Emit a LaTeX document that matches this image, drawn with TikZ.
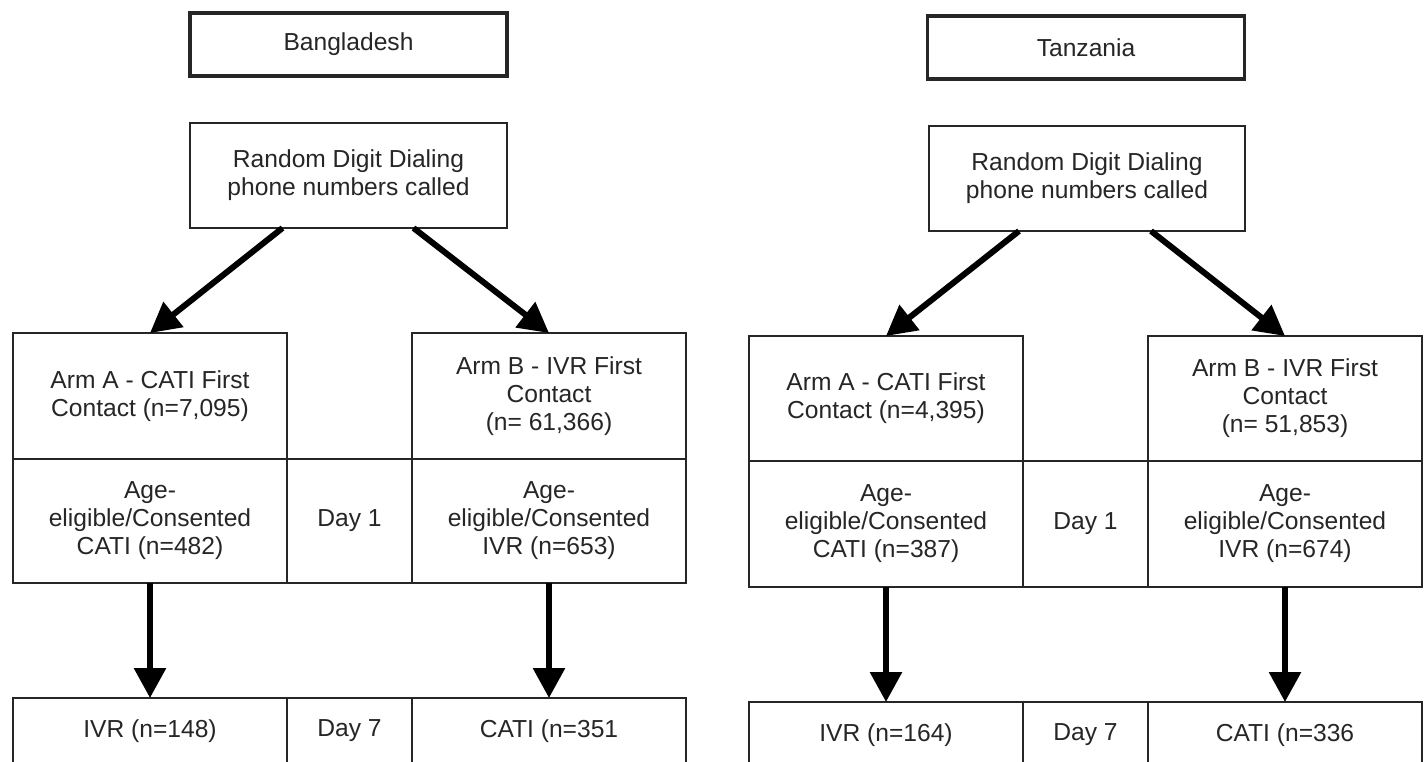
\documentclass[tikz,border=0pt]{standalone}
\usepackage{fontspec}
\setmainfont{Liberation Sans}
\usetikzlibrary{arrows.meta}
\begin{document}
\begin{tikzpicture}[x=0.5pt,y=-0.5pt,
  cell/.style={draw=black!85, line width=1pt, rectangle, inner sep=0pt, outer sep=0pt,
    align=center, font=\fontsize{12.3}{14}\selectfont, text=black!85},
  titlebox/.style={cell, line width=1.6pt, minimum width=158.5pt, minimum height=31.5pt},
  wide/.style={cell, minimum width=137pt},
  narrow/.style={cell, minimum width=62.5pt},
  flow/.style={line width=3pt, draw=black, -{Triangle[length=15pt,width=15.5pt]}},
]
\useasboundingbox (0,0) rectangle (1424,761);
\fill[white] (0,0) rectangle (1424,761);
\clip (0,0) rectangle (1424,761);

% ---------------- Bangladesh ----------------
\node[titlebox] (titleL) at (348.5,44.5) {Bangladesh};
\node[cell, minimum width=158.5pt, minimum height=52.5pt] (rddL) at (348.5,175.5)
  {Random Digit Dialing\\phone numbers called};
\node[wide, minimum height=63pt] (armAL) at (150,396) {Arm A - CATI First\\Contact (n=7,095)};
\node[wide, minimum height=63pt] (armBL) at (549,396) {Arm B - IVR First\\Contact\\(n= 61,366)};
\node[wide, minimum height=62pt] (ageAL) at (150,521) {Age-\\eligible/Consented\\CATI (n=482)};
\node[narrow, minimum height=62pt] (day1L) at (349.5,521) {Day 1};
\node[wide, minimum height=62pt] (ageBL) at (549,521) {Age-\\eligible/Consented\\IVR (n=653)};
\node[wide, minimum height=33pt] (ivrL) at (150,731) {IVR (n=148)};
\node[narrow, minimum height=33pt] (day7L) at (349.5,731) {Day 7};
\node[wide, minimum height=33pt] (catiL) at (549,731) {CATI (n=351};

\draw[flow] ([xshift=-33pt]rddL.south) -- (armAL.north);
\draw[flow] ([xshift=32.5pt]rddL.south) -- (armBL.north);
\draw[flow] (ageAL.south) -- (ivrL.north);
\draw[flow] (ageBL.south) -- (catiL.north);

% ---------------- Tanzania ----------------
\node[titlebox] (titleR) at (1086,47.5) {Tanzania};
\node[cell, minimum width=158pt, minimum height=52.5pt] (rddR) at (1087,178.5)
  {Random Digit Dialing\\phone numbers called};
\node[wide, minimum height=62.5pt] (armAR) at (886,398.5) {Arm A - CATI First\\Contact (n=4,395)};
\node[wide, minimum height=62.5pt] (armBR) at (1285,398.5) {Arm B - IVR First\\Contact\\(n= 51,853)};
\node[wide, minimum height=63pt] (ageAR) at (886,524) {Age-\\eligible/Consented\\CATI (n=387)};
\node[narrow, minimum height=63pt] (day1R) at (1085.5,524) {Day 1};
\node[wide, minimum height=63pt] (ageBR) at (1285,524) {Age-\\eligible/Consented\\IVR (n=674)};
\node[wide, minimum height=33pt] (ivrR) at (886,735) {IVR (n=164)};
\node[narrow, minimum height=33pt] (day7R) at (1085.5,735) {Day 7};
\node[wide, minimum height=33pt] (catiR) at (1285,735) {CATI (n=336};

\draw[flow] ([xshift=-34pt]rddR.south) -- (armAR.north);
\draw[flow] ([xshift=32pt]rddR.south) -- (armBR.north);
\draw[flow] (ageAR.south) -- (ivrR.north);
\draw[flow] (ageBR.south) -- (catiR.north);
\end{tikzpicture}
\end{document}
